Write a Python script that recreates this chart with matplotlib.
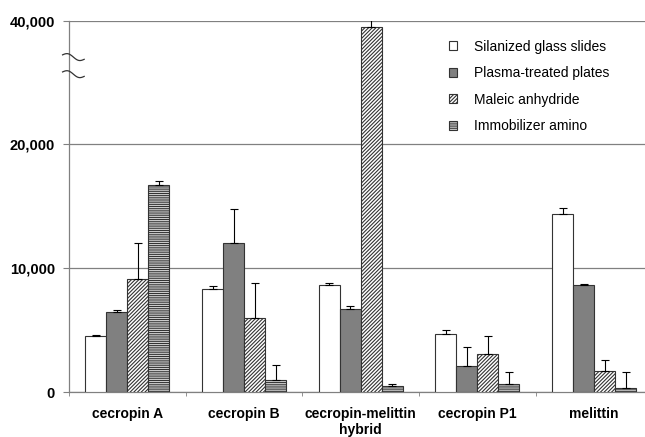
import numpy as np
import matplotlib
matplotlib.use("Agg")
import matplotlib.pyplot as plt
from matplotlib.ticker import FuncFormatter

plt.rcParams["font.family"] = ["Liberation Sans", "DejaVu Sans"]
plt.rcParams["hatch.linewidth"] = 0.8

# peptides on the x axis
categories = ["cecropin A", "cecropin B", "cecropin-melittin\nhybrid",
              "cecropin P1", "melittin"]
series = ["Silanized glass slides", "Plasma-treated plates",
          "Maleic anhydride", "Immobilizer amino"]

silanized = [4500, 8300, 8650, 4700, 14400]
silanized_err = [100, 230, 150, 270, 480]
plasma = [6450, 12050, 6680, 2100, 8630]
plasma_err = [150, 2720, 290, 1560, 80]
maleic = [9150, 6000, 39000, 3100, 1700]
maleic_err = [2850, 2800, 1500, 1430, 850]
immob = [16750, 1000, 480, 670, 300]
immob_err = [300, 1180, 190, 940, 1310]

values = [silanized, plasma, maleic, immob]
errors = [silanized_err, plasma_err, maleic_err, immob_err]
faces = ["white", "#808080", "white", "white"]
hatches = [None, None, "/////////", "---------"]

yticks = [0, 10000, 20000, 40000]

# broken axis: everything above 20,000 compressed by half
BREAK = 20000
K = 0.5


def fwd(y):
    y = np.asarray(y, dtype=float)
    return np.where(y <= BREAK, y, BREAK + (y - BREAK) * K)


def inv(y):
    y = np.asarray(y, dtype=float)
    return np.where(y <= BREAK, y, BREAK + (y - BREAK) / K)


fig = plt.figure(figsize=(6.45, 4.37), dpi=100)
ax = fig.add_axes([69 / 645, 45 / 437, 583.5 / 645, 371.3 / 437])
ax.set_yscale("function", functions=(fwd, inv))

x = np.arange(len(categories))
w = 0.18
for i, (vals, errs) in enumerate(zip(values, errors)):
    pos = x + (i - 1.5) * w
    ax.bar(pos, vals, w, color=faces[i], edgecolor="#333333",
           hatch=hatches[i], linewidth=0.8, label=series[i], zorder=3)
    ax.errorbar(pos, vals, yerr=[np.zeros(len(errs)), errs], fmt="none",
                ecolor="black", elinewidth=0.8, capsize=3, capthick=0.8,
                zorder=4)

ax.set_xlim(-0.5, len(categories) - 0.5)
ax.set_ylim(0, 40000)
ax.set_yticks(yticks)
ax.yaxis.set_major_formatter(FuncFormatter(lambda v, p: f"{v:,.0f}"))
ax.set_xticks(x)
ax.set_xticklabels(categories, fontweight="bold", fontsize=10)
ax.set_xticks(np.arange(len(categories) + 1) - 0.5, minor=True)
ax.tick_params(axis="x", which="major", length=0, pad=11)
ax.tick_params(axis="x", which="minor", length=3, color="#808080",
               direction="out")
ax.tick_params(axis="y", length=4, color="#808080", pad=6, labelsize=10.5)
for lab in ax.get_yticklabels():
    lab.set_fontweight("bold")

ax.grid(axis="y", color="#808080", linewidth=0.9, zorder=0)
for s in ["top", "right"]:
    ax.spines[s].set_visible(False)
for s in ["left", "bottom"]:
    ax.spines[s].set_color("#808080")
    ax.spines[s].set_linewidth(0.9)

# break marks on the y axis
t = np.linspace(0, 1, 30)
for y0 in [0.908, 0.862]:
    bx = -0.011 + 0.037 * t
    by = y0 - 0.012 * t + 0.006 * np.sin(2 * np.pi * t)
    ax.plot(bx, by, transform=ax.transAxes, color="#333333", lw=0.9,
            clip_on=False, zorder=5)

ax.legend(loc="upper left", bbox_to_anchor=(0.685, 0.925),
          bbox_transform=fig.transFigure, frameon=False, fontsize=10,
          handlelength=0.6, handleheight=0.6, labelspacing=0.9,
          handletextpad=1.2, borderpad=0)

fig.savefig("out.png", dpi=100)
